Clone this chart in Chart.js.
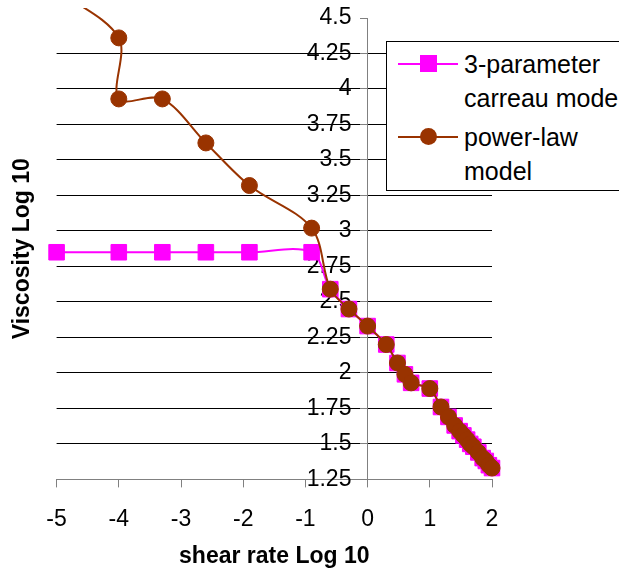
<!DOCTYPE html>
<html>
<head>
<meta charset="utf-8">
<script src="https://cdn.jsdelivr.net/npm/chart.js@4.4.0/dist/chart.umd.min.js"></script>
<style>
  html, body { margin: 0; padding: 0; overflow: hidden; background: #fff; }
  #wrap { position: relative; width: 619px; height: 575px; }
  #legend {
    position: absolute; left: 386px; top: 41px; width: 260px; height: 148px;
    border: 1px solid #000; background: #fff; color: #000;
    font-family: 'Liberation Sans', Arial, sans-serif; font-size: 25px; line-height: 34px;
  }
  .item { position: absolute; left: 0; width: 260px; }
  .line { position: absolute; left: 11px; top: 16px; width: 60px; height: 2px; }
  .mark { position: absolute; left: 33px; top: 8px; width: 17px; height: 17px; }
  .text { position: absolute; left: 77px; top: 0; width: 175px; }
</style>
</head>
<body>
<div id="wrap">
  <canvas id="chart" width="619" height="575"></canvas>
  <div id="legend"></div>
</div>
<script>
// tick values
const xTicks = [-5, -4, -3, -2, -1, 0, 1, 2];
const yTicks = [1.25, 1.5, 1.75, 2, 2.25, 2.5, 2.75, 3, 3.25, 3.5, 3.75, 4, 4.25, 4.5];

// 3-parameter carreau model (log10 shear rate, log10 viscosity)
const carreauShear = [-5, -4, -3.3, -2.6, -1.9, -0.9, -0.6, -0.3, 0, 0.3, 0.48, 0.6, 0.7, 1.0, 1.18, 1.3,
  1.4, 1.48, 1.54, 1.6, 1.65, 1.7, 1.78, 1.85, 1.9, 1.95, 2.0];
const carreauVisc = [2.85, 2.85, 2.85, 2.85, 2.85, 2.85, 2.59, 2.45, 2.33, 2.2, 2.07, 1.99, 1.93, 1.89, 1.76, 1.69,
  1.63, 1.59, 1.56, 1.53, 1.5, 1.48, 1.44, 1.4, 1.38, 1.35, 1.33];

// power-law model
const powerShear = [-5, -4, -4, -3.3, -2.6, -1.9, -0.9, -0.6, -0.3, 0, 0.3, 0.48, 0.6, 0.7, 1.0, 1.18, 1.3,
  1.4, 1.48, 1.54, 1.6, 1.65, 1.7, 1.78, 1.85, 1.9, 1.95, 2.0];
const powerVisc = [4.7, 4.36, 3.93, 3.93, 3.62, 3.32, 3.02, 2.59, 2.45, 2.33, 2.2, 2.07, 1.99, 1.93, 1.89, 1.76, 1.69,
  1.63, 1.59, 1.56, 1.53, 1.5, 1.48, 1.44, 1.4, 1.38, 1.35, 1.33];

const toPoints = (xs, ys) => xs.map((x, i) => ({ x: x, y: ys[i] }));

const family = "'Liberation Sans', Arial, sans-serif";
Chart.defaults.font.family = family;
Chart.defaults.color = '#000';

const yTickValues = scale => { scale.ticks = yTicks.map(v => ({ value: v })); };

const chart = new Chart(document.getElementById('chart').getContext('2d'), {
  type: 'scatter',
  data: {
    datasets: [
      {
        label: '3-parameter carreau model',
        data: toPoints(carreauShear, carreauVisc),
        showLine: true,
        tension: 0.33,
        borderColor: '#FF00FF',
        backgroundColor: '#FF00FF',
        borderWidth: 2,
        pointStyle: 'rect',
        pointRadius: 11,
        pointBorderWidth: 1,
        clip: { left: 12, right: 12, top: 10, bottom: 12 },
        order: 2,
      },
      {
        label: 'power-law model',
        data: toPoints(powerShear, powerVisc),
        showLine: true,
        tension: 0.33,
        borderColor: '#993300',
        backgroundColor: '#993300',
        borderWidth: 2,
        pointStyle: 'circle',
        pointRadius: 8,
        pointBorderWidth: 1,
        clip: { left: 12, right: 12, top: 10, bottom: 12 },
        order: 1,
      },
    ],
  },
  options: {
    responsive: false,
    animation: false,
    layout: { padding: { left: 0, top: 18, right: 127, bottom: 0 } },
    plugins: {
      legend: { display: false },
      tooltip: { enabled: false },
    },
    scales: {
      x: {
        type: 'linear',
        min: -5,
        max: 2,
        afterBuildTicks: scale => { scale.ticks = xTicks.map(v => ({ value: v })); },
        ticks: { font: { size: 23 }, color: '#000', padding: 18, callback: v => String(v) },
        grid: { drawOnChartArea: false, drawTicks: true, tickLength: 8, tickColor: '#808080' },
        border: { color: '#808080' },
        title: {
          display: true,
          text: 'shear rate Log 10',
          color: '#000',
          font: { size: 23, weight: 'bold', lineHeight: '12px' },
          padding: { top: 0, bottom: 12 },
        },
      },
      // axis line, tick marks and grid, crossing x at 0
      y: {
        type: 'linear',
        min: 1.25,
        max: 4.5,
        position: { x: 0 },
        afterBuildTicks: yTickValues,
        ticks: { display: false },
        grid: {
          color: ctx => (ctx.tick && ctx.tick.value === 4.5 ? 'rgba(0,0,0,0)' : '#000'),
          tickLength: 7,
          tickColor: '#808080',
        },
        border: { color: '#808080' },
      },
      // tick labels, set just left of the axis
      yLabels: {
        type: 'linear',
        axis: 'y',
        min: 1.25,
        max: 4.5,
        position: { x: -0.26 },
        afterBuildTicks: yTickValues,
        ticks: { font: { size: 23 }, color: '#000', callback: v => String(v) },
        grid: { display: false, drawTicks: false },
        border: { display: false },
      },
      yTitle: {
        type: 'linear',
        axis: 'y',
        position: 'left',
        ticks: { display: false },
        grid: { display: false, drawTicks: false },
        border: { display: false },
        title: {
          display: true,
          text: 'Viscosity Log 10',
          color: '#000',
          font: { size: 23, weight: 'bold' },
          padding: { top: 9, bottom: 20 },
        },
      },
    },
  },
});

// html legend built from the datasets
const legendEl = document.getElementById('legend');
chart.data.datasets.forEach((ds, i) => {
  const item = document.createElement('div');
  item.className = 'item';
  item.style.top = (5 + i * 73) + 'px';
  const line = document.createElement('div');
  line.className = 'line';
  line.style.background = ds.borderColor;
  const mark = document.createElement('div');
  mark.className = 'mark';
  mark.style.background = ds.backgroundColor;
  if (ds.pointStyle === 'circle') mark.style.borderRadius = '50%';
  const text = document.createElement('div');
  text.className = 'text';
  text.textContent = ds.label;
  item.appendChild(line);
  item.appendChild(mark);
  item.appendChild(text);
  legendEl.appendChild(item);
});
</script>
</body>
</html>
